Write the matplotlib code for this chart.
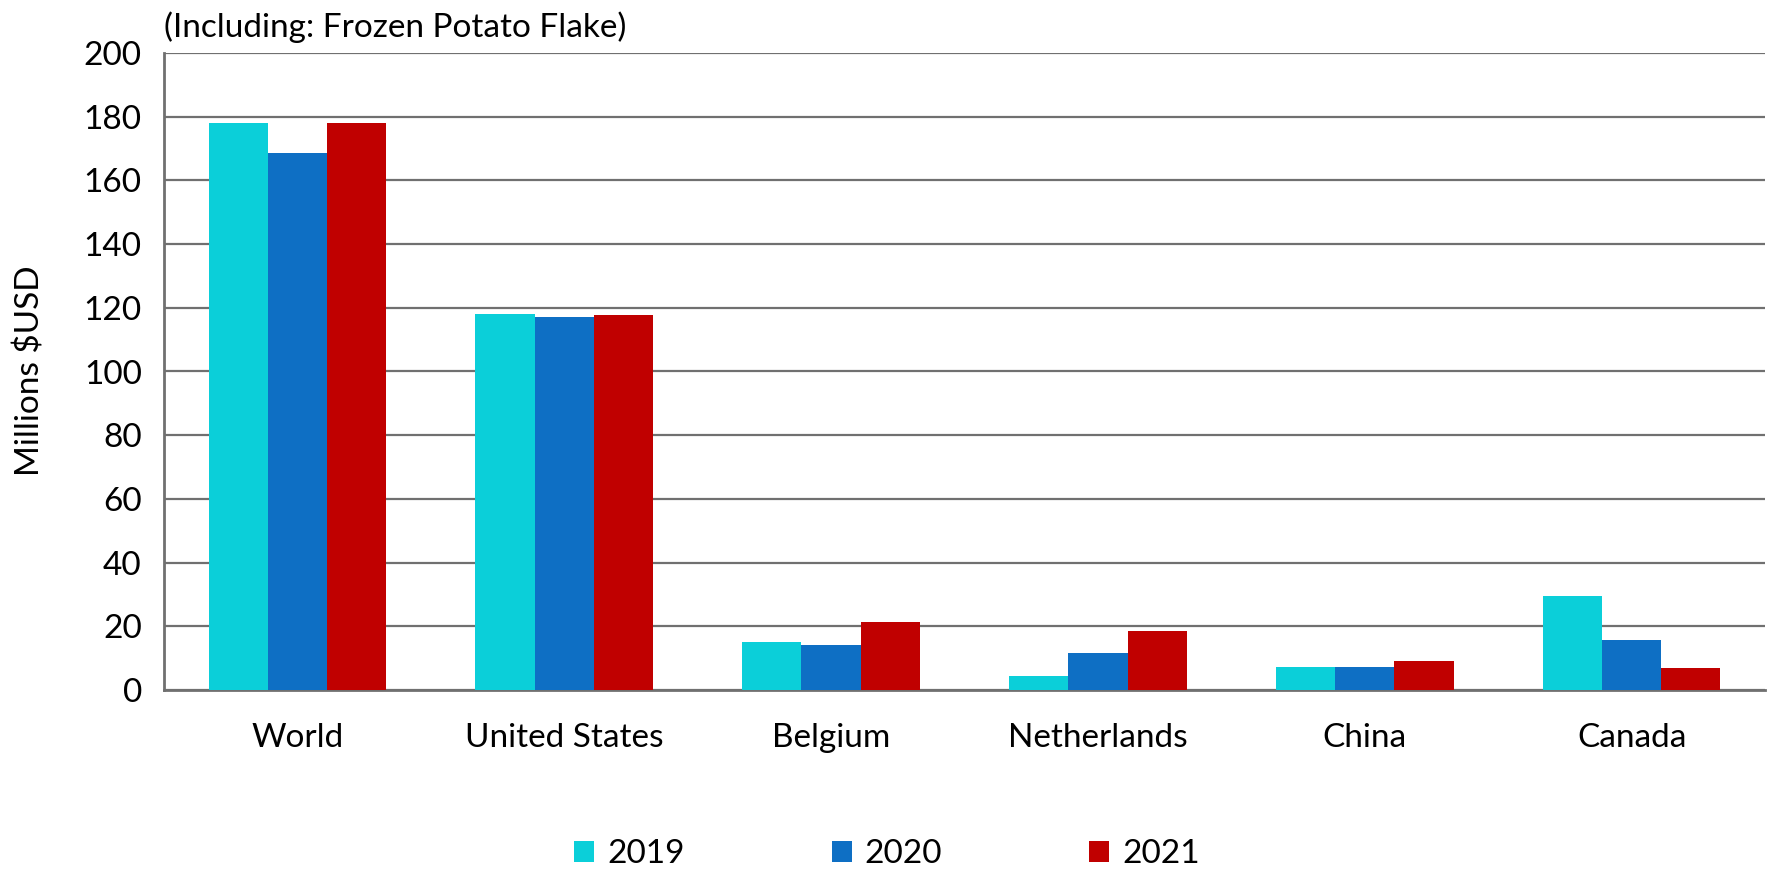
import matplotlib.pyplot as plt
import numpy as np

plt.rcParams['font.family'] = ['Lato', 'DejaVu Sans']

# Данные
countries = ["World", "United States", "Belgium", "Netherlands", "China", "Canada"]
years = ["2019", "2020", "2021"]
v2019 = [178.0, 118.2, 15.0, 4.3, 7.3, 29.6]
v2020 = [168.5, 117.0, 14.0, 11.5, 7.1, 15.8]
v2021 = [178.0, 117.8, 21.2, 18.6, 9.1, 6.8]
colors = ["#0bcfd9", "#0e6fc4", "#c00000"]

fig = plt.figure(figsize=(17.74, 8.71), dpi=100)
ax = fig.add_axes([164 / 1774, 1 - 690 / 871, (1765 - 164) / 1774, (690 - 53) / 871])

x = np.arange(len(countries))
w = 0.222
for i, (vals, yr) in enumerate(zip([v2019, v2020, v2021], years)):
    ax.bar(x + (i - 1) * w, vals, width=w, color=colors[i], label=yr, zorder=3)

ax.set_xlim(-0.5, len(countries) - 0.5)
ax.set_ylim(0, 200)
ax.set_yticks(np.arange(0, 201, 20))
ax.yaxis.grid(True, color="#707070", linewidth=1.6, zorder=0)
ax.tick_params(axis="both", length=0, labelsize=24, colors="black")
ax.tick_params(axis="y", pad=16)
ax.tick_params(axis="x", pad=24)
ax.set_xticks(x)
ax.set_xticklabels(countries)

for s in ["top", "right"]:
    ax.spines[s].set_visible(False)
for s in ["left", "bottom"]:
    ax.spines[s].set_color("#707070")
    ax.spines[s].set_linewidth(2)

# подпись оси Y
fig.text(30 / 1774, 1 - 371 / 871, "Millions $USD", fontsize=24, rotation=90,
         ha="center", va="center")

fig.text(164 / 1774, 1 - 27 / 871, "(Including: Frozen Potato Flake)", fontsize=24,
         va="center", ha="left")

fig.legend(loc="center", bbox_to_anchor=(0.5, 1 - 854 / 871), ncol=3, frameon=False,
           fontsize=24, handlelength=0.6, handleheight=0.6, handletextpad=0.4,
           columnspacing=4.4)

plt.savefig("out.png", dpi=100)
